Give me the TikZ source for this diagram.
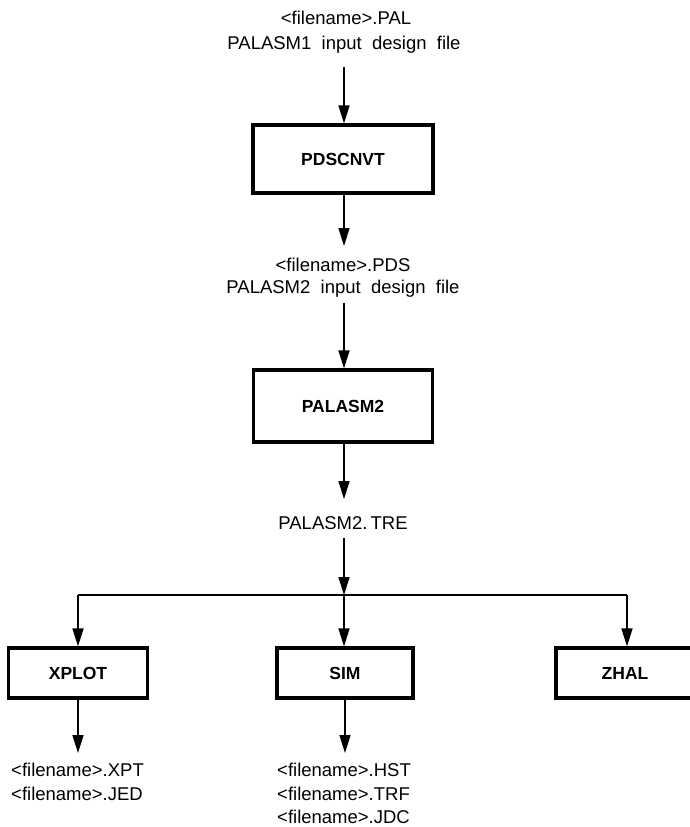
\documentclass[tikz,border=0pt]{standalone}
\usepackage{fontspec}
\setmainfont{Liberation Sans}
\usetikzlibrary{arrows.meta}
\begin{document}
\begin{tikzpicture}[x=1pt,y=-1pt,
  lbl/.style={inner sep=0pt,font=\fontsize{18.5}{22}\selectfont},
  lbll/.style={lbl,anchor=west},
  prog/.style={draw,line width=3.2pt,inner sep=0pt,font=\fontsize{17.5}{21}\selectfont\bfseries},
  flow/.style={line width=1.5pt,-{Triangle[length=18pt,width=11pt]}},
  plain/.style={line width=1.5pt}]
\useasboundingbox (0,0) rectangle (690,827);
% texts
\node[lbl] (pal) at (346,18) {<filename>.PAL};
\node[lbl] (pal1) at (344,45) {PALASM1\ \ input\ \ design\ \ file};
\node[prog,minimum width=180pt,minimum height=68pt] (pdscnvt) at (343,159) {PDSCNVT};
\node[lbl] (pds) at (343,265) {<filename>.PDS};
\node[lbl] (pds2) at (343,289) {PALASM2\ \ input\ \ design\ \ file};
\node[prog,minimum width=179pt,minimum height=72pt] (palasm2) at (343,406) {PALASM2};
\node[lbl] (tre) at (343,523) {PALASM2.\,TRE};
\node[prog,minimum width=139pt,minimum height=50pt] (xplot) at (78,673) {XPLOT};
\node[prog,minimum width=136pt,minimum height=50pt] (sim) at (345,673) {SIM};
\node[prog,minimum width=138pt,minimum height=50pt] (zhal) at (625,673) {ZHAL};
\node[lbll] (xpt) at (11,770) {<filename>.XPT};
\node[lbll] (jed) at (11,794) {<filename>.JED};
\node[lbll] (hst) at (277,770) {<filename>.HST};
\node[lbll] (trf) at (277,794) {<filename>.TRF};
\node[lbll] (jdc) at (277,817) {<filename>.JDC};
% junction coordinates
\coordinate (jl) at (78,595);
\coordinate (jm) at (344,595);
\coordinate (jr) at (627,595);
\coordinate (a1) at (344,67);
\coordinate (a2) at (344,246);
\coordinate (a3) at (344,303);
\coordinate (a4) at (344,499);
\coordinate (a5) at (344,538);
\coordinate (bx) at (78,753);
\coordinate (bs) at (345,753);
% connectors
\draw[flow] (a1) -- (a1 |- pdscnvt.north);
\draw[flow] (a1 |- pdscnvt.south) -- (a2);
\draw[flow] (a3) -- (a3 |- palasm2.north);
\draw[flow] (a3 |- palasm2.south) -- (a4);
\draw[flow] (a5) -- (jm);
\draw[plain] (jl) -- (jr);
\draw[flow] (jl) -- (xplot.north);
\draw[flow] (jm) -- (jm |- sim.north);
\draw[flow] (jr) -- (jr |- zhal.north);
\draw[flow] (xplot.south) -- (bx);
\draw[flow] (sim.south) -- (bs);
\end{tikzpicture}
\end{document}
